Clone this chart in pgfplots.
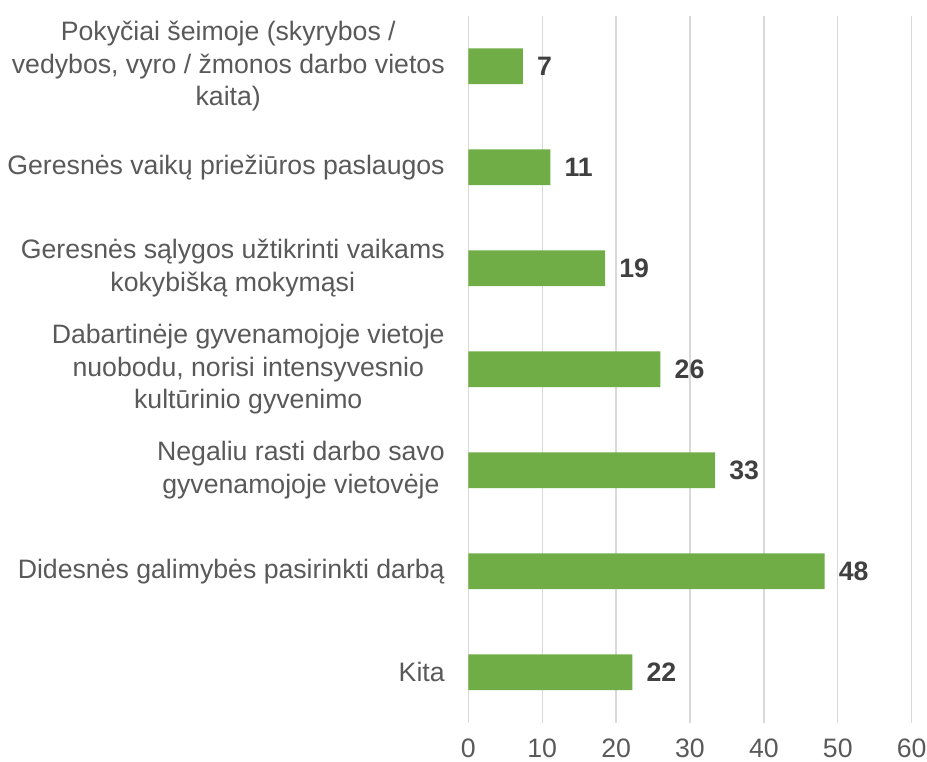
\documentclass[border=0pt]{standalone}
\usepackage{fontspec}
\setmainfont{Liberation Sans}
\usepackage{pgfplots}
\pgfplotsset{compat=1.18}
\definecolor{barg}{HTML}{70AD47}
\definecolor{gridc}{HTML}{D9D9D9}
\definecolor{lab}{HTML}{595959}
\definecolor{dl}{HTML}{404040}
\begin{document}
\begin{tikzpicture}
\useasboundingbox (0,0) rectangle (695.25pt,571.5pt);
\begin{axis}[
  at={(351.2pt,29.5pt)}, anchor=south west,
  scale only axis, width=332.6pt, height=530.25pt,
  xbar, bar width=26.8pt,
  xmin=0, xmax=60, ymin=-0.5, ymax=6.5,
  xtick={0,10,...,60},
  ytick={0,...,6},
  yticklabels={{Kita},{Didesnės galimybės pasirinkti darbą},{Negaliu rasti darbo savo\\gyvenamojoje vietovėje},{Dabartinėje gyvenamojoje vietoje\\nuobodu, norisi intensyvesnio\\kultūrinio gyvenimo},{Geresnės sąlygos užtikrinti vaikams\\kokybišką mokymąsi},{Geresnės vaikų priežiūros paslaugos},{Pokyčiai šeimoje (skyrybos /\\vedybos, vyro / žmonos darbo vietos\\kaita)}},
  xmajorgrids, grid style={gridc, line width=1pt},
  axis line style={draw=none},
  major tick length=0pt,
  tick label style={font=\fontsize{20}{24.4}\selectfont, text=lab},
  /pgf/number format/assume math mode=true,
  xticklabel style={anchor=base, yshift=-26.1pt, inner sep=0pt},
  yticklabel style={anchor=east, align=center, inner sep=0pt, xshift=-17.5pt},
  nodes near coords, point meta=explicit symbolic,
  every node near coord/.append style={anchor=west, inner sep=0pt, xshift=10.5pt, font=\fontsize{20}{24}\selectfont\bfseries, text=dl},
]
\addplot[fill=barg, draw=none] table[x=x, y=y, meta=lab] {
x y lab
22.2 0 22
48.2 1 48
33.4 2 33
26.0 3 26
18.5 4 19
11.1 5 11
7.4 6 7
};
\end{axis}
\end{tikzpicture}
\end{document}
